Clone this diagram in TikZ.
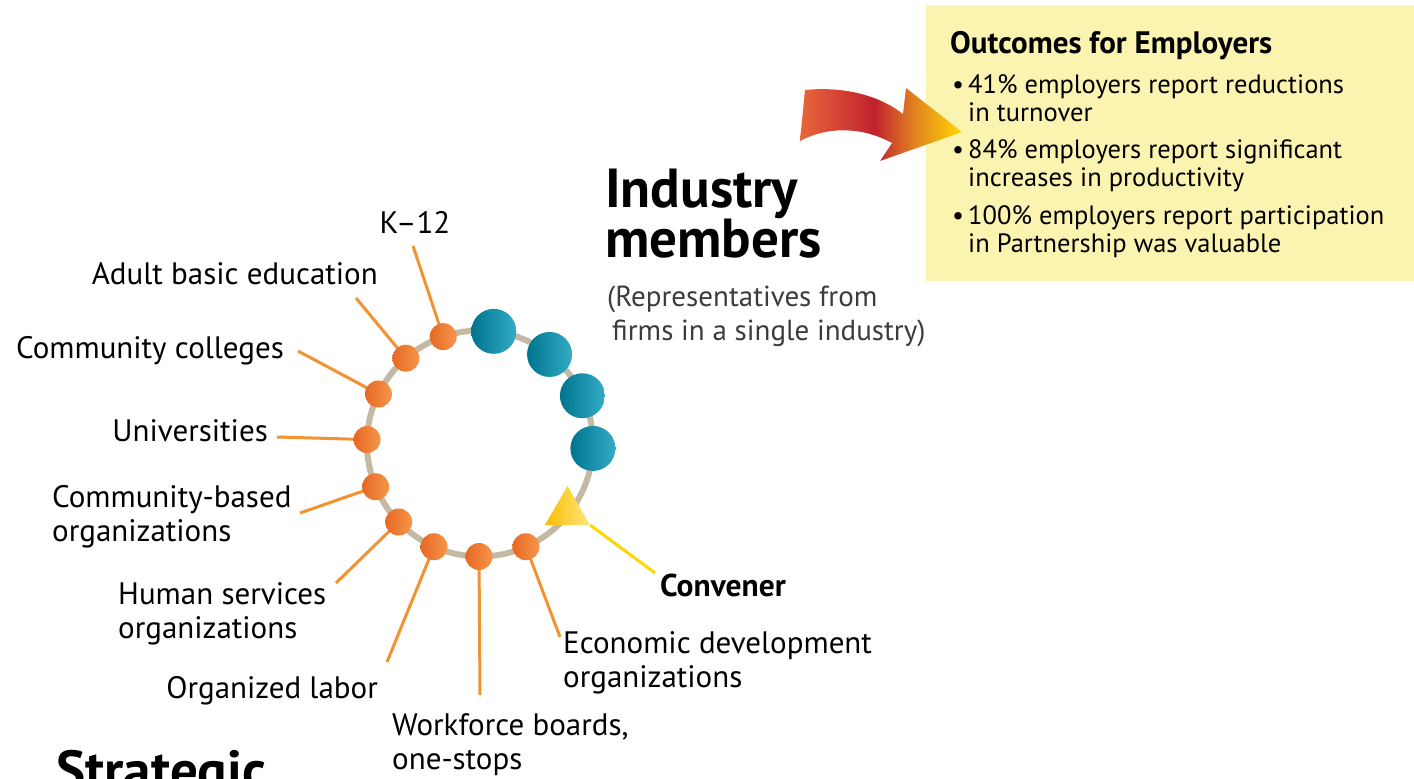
\documentclass[tikz,border=0pt]{standalone}
\usepackage{fontspec}
\setmainfont{PT Sans}
\usetikzlibrary{backgrounds,shapes.geometric,calc}
\definecolor{ringc}{RGB}{196,185,162}
\definecolor{ornA}{RGB}{230,104,36}
\definecolor{ornB}{RGB}{246,150,74}
\definecolor{bluA}{RGB}{0,116,142}
\definecolor{bluB}{RGB}{52,172,198}
\definecolor{lineor}{RGB}{242,146,48}
\definecolor{lineye}{RGB}{255,214,0}
\definecolor{triA}{RGB}{250,188,0}
\definecolor{triB}{RGB}{255,232,128}
\definecolor{boxy}{RGB}{251,243,176}
\definecolor{subgray}{RGB}{60,60,60}
\definecolor{arA}{RGB}{232,102,58}
\definecolor{arB}{RGB}{192,34,45}
\definecolor{arC}{RGB}{226,128,32}
\definecolor{arD}{RGB}{255,216,0}
\pgfdeclarehorizontalshading{arrowshade}{100bp}{color(0bp)=(arA); color(25bp)=(arA); color(48bp)=(arB); color(60bp)=(arC); color(75bp)=(arD); color(100bp)=(arD)}
\begin{document}
\begin{tikzpicture}[x=1pt,y=-1pt,
  onode/.style={circle,inner sep=0pt,minimum size=27pt,left color=ornA,right color=ornB,draw=none},
  bnode/.style={circle,inner sep=0pt,minimum size=45pt,left color=bluA,right color=bluB,draw=none},
  lab/.style={inner sep=0pt,font=\fontsize{31}{34}\selectfont,align=left},
  big/.style={inner sep=0pt,font=\fontsize{55}{50}\selectfont\bfseries,align=left},
  conn/.style={draw=lineor,line width=3pt},
  bul/.style={inner sep=0pt,font=\fontsize{26.5}{28}\selectfont,align=left}]
\useasboundingbox (0,0) rectangle (1414,779);
\coordinate (ctr) at (480,443.5);
% ring nodes
\node[onode] (o1) at ($(ctr)+(-109:113)$) {};
\node[onode] (o2) at ($(ctr)+(-131:113)$) {};
\node[onode] (o3) at ($(ctr)+(-154:113)$) {};
\node[onode] (o4) at ($(ctr)+(-178:113)$) {};
\node[onode] (o5) at ($(ctr)+(-202.5:113)$) {};
\node[onode] (o6) at ($(ctr)+(-224:113)$) {};
\node[onode] (o7) at ($(ctr)+(-246:113)$) {};
\node[onode] (o8) at ($(ctr)+(-269.5:113)$) {};
\node[onode] (o9) at ($(ctr)+(-294:113)$) {};
\node[bnode] (b1) at ($(ctr)+(-83:113)$) {};
\node[bnode] (b2) at ($(ctr)+(-52:113)$) {};
\node[bnode] (b3) at ($(ctr)+(-25:113)$) {};
\node[bnode] (b4) at ($(ctr)+(2.5:113)$) {};
\node[regular polygon,regular polygon sides=3,minimum size=52pt,inner sep=0pt,left color=triA,right color=triB,draw=none] (conv) at (567.5,512) {};
% line ends
\coordinate (e1) at (413,246);
\coordinate (e2) at (356,298);
\coordinate (e3) at (298,351);
\coordinate (e4) at (277,437);
\coordinate (e5) at (300,513);
\coordinate (e6) at (336,583);
\coordinate (e7) at (387,662);
\coordinate (e8) at (480,695);
\coordinate (e9) at (560,637);
\coordinate (ec) at (655,573);
\begin{scope}[on background layer]
  \draw[ringc,line width=6pt] (ctr) circle[radius=113pt];
  \draw[conn] (o1.center) -- (e1);
  \draw[conn] (o2.center) -- (e2);
  \draw[conn] (o3.center) -- (e3);
  \draw[conn] (o4.center) -- (e4);
  \draw[conn] (o5.center) -- (e5);
  \draw[conn] (o6.center) -- (e6);
  \draw[conn] (o7.center) -- (e7);
  \draw[conn] (o8.center) -- (e8);
  \draw[conn] (o9.center) -- (e9);
  \draw[lineye,line width=3pt] (conv.corner 3) -- (ec);
\end{scope}
% labels (multi-line nodes: base = last line)
\node[lab,anchor=base] (l1) at (415,233) {K--12};
\node[lab,anchor=base east] (l2) at (378,284) {Adult basic education};
\node[lab,anchor=base east] (l3) at (284,358) {Community colleges};
\node[lab,anchor=base east] (l4) at (268,441) {Universities};
\node[lab,anchor=base west] (l5) at (52,541) {Community-based\\organizations};
\node[lab,anchor=base west] (l6) at (118,638) {Human services\\organizations};
\node[lab,anchor=base east] (l7) at (378,698) {Organized labor};
\node[lab,anchor=base west] (l8) at (392,769) {Workforce boards,\\one-stops};
\node[lab,anchor=base west] (l9) at (563,687) {Economic development\\organizations};
\node[lab,anchor=base west,font=\fontsize{31.5}{34}\selectfont\bfseries] (lc) at (660,596) {Convener};
% industry members
\node[big,anchor=base west] (ind) at (605,257) {Industry\\members};
\node[inner sep=0pt,anchor=base west,align=left,text=subgray,font=\fontsize{29}{34}\selectfont] (rep) at (607,340) {(Representatives from\\\hspace*{5pt}firms in a single industry)};
% strategic
\begin{scope}
  \clip (0,0) rectangle (1414,779);
  \node[big,anchor=base west] (strat) at (56,789) {Strategic};
\end{scope}
% outcomes box
\fill[boxy] (926,5) rectangle (1414,281);
\node[inner sep=0pt,anchor=base west,font=\fontsize{31}{30}\selectfont\bfseries] (otitle) at (950,53) {Outcomes for Employers};
\node[bul,anchor=base west] (d1) at (952,93) {•};
\node[bul,anchor=base west] (t1) at (968,121) {41\% employers report reductions\\in turnover};
\node[bul,anchor=base west] (d2) at (952,158) {•};
\node[bul,anchor=base west] (t2) at (968,186) {84\% employers report significant\\increases in productivity};
\node[bul,anchor=base west] (d3) at (952,224) {•};
\node[bul,anchor=base west] (t3) at (968,252) {100\% employers report participation\\in Partnership was valuable};
% curved arrow
\shade[shading=arrowshade]
  (805,90) .. controls (845,86) and (880,96) .. (903,114)
  -- (906,88) -- (962,132) -- (880,161) -- (892,143)
  .. controls (865,128) and (830,125) .. (800,141) -- cycle;
\end{tikzpicture}
\end{document}
